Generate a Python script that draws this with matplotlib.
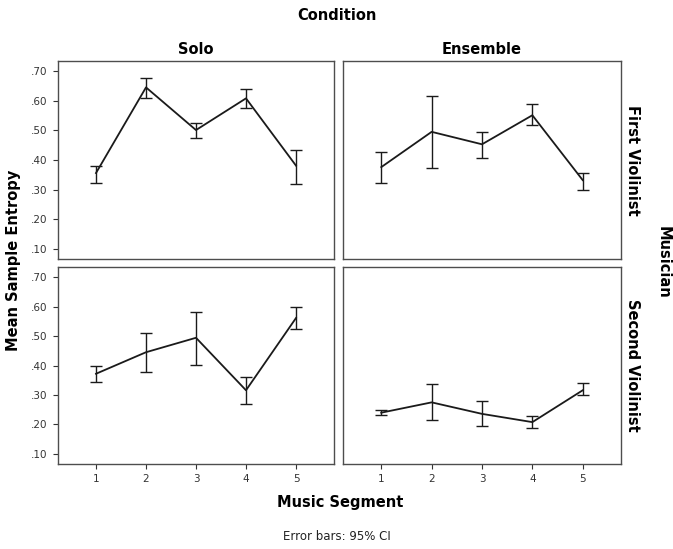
import matplotlib
matplotlib.use("Agg")
import matplotlib.pyplot as plt
import numpy as np

# Mean sample entropy by music segment, with 95% CI bounds
segments = [1, 2, 3, 4, 5]
conditions = ["Solo", "Ensemble"]
musicians = ["First Violinist", "Second Violinist"]

first_solo_mean = [0.356, 0.645, 0.501, 0.608, 0.381]
first_solo_low = [0.322, 0.610, 0.473, 0.576, 0.320]
first_solo_high = [0.380, 0.677, 0.526, 0.640, 0.434]

first_ens_mean = [0.376, 0.495, 0.453, 0.551, 0.332]
first_ens_low = [0.322, 0.374, 0.408, 0.517, 0.300]
first_ens_high = [0.427, 0.617, 0.495, 0.588, 0.356]

second_solo_mean = [0.372, 0.445, 0.494, 0.316, 0.561]
second_solo_low = [0.344, 0.379, 0.403, 0.269, 0.523]
second_solo_high = [0.399, 0.510, 0.583, 0.362, 0.597]

second_ens_mean = [0.240, 0.275, 0.236, 0.208, 0.316]
second_ens_low = [0.232, 0.214, 0.196, 0.187, 0.300]
second_ens_high = [0.248, 0.336, 0.279, 0.228, 0.339]

yticks = [0.1, 0.2, 0.3, 0.4, 0.5, 0.6, 0.7]
ytick_labels = [".10", ".20", ".30", ".40", ".50", ".60", ".70"]

panels = [
    [(first_solo_mean, first_solo_low, first_solo_high),
     (first_ens_mean, first_ens_low, first_ens_high)],
    [(second_solo_mean, second_solo_low, second_solo_high),
     (second_ens_mean, second_ens_low, second_ens_high)],
]

plt.rcParams['font.family'] = ['DejaVu Sans']
fig = plt.figure(figsize=(6.73, 5.49), dpi=100)

lefts = [58 / 673, 343 / 673]
widths = [276 / 673, 278 / 673]
bottoms = [1 - 259 / 549, 1 - 464 / 549]
heights = [198 / 549, 197 / 549]

for r in range(2):
    for c in range(2):
        ax = fig.add_axes([lefts[c], bottoms[r], widths[c], heights[r]])
        mean, low, high = panels[r][c]
        mean = np.array(mean)
        yerr = [mean - np.array(low), np.array(high) - mean]
        ax.errorbar(segments, mean, yerr=yerr, color="#1a1a1a", lw=1.3,
                    elinewidth=1.0, capsize=4.3, capthick=1.0)
        ax.set_xlim(0.24, 5.76)
        ax.set_ylim(0.066, 0.734)
        for s in ax.spines.values():
            s.set_color("#4d4d4d")
            s.set_linewidth(1.0)
        ax.tick_params(direction="out", length=3.8, width=0.8, labelsize=7.5,
                       color="#333333", labelcolor="#333333")
        if c == 0:
            ax.set_yticks(yticks)
            ax.set_yticklabels(ytick_labels)
        else:
            ax.set_yticks([])
        if r == 1:
            ax.set_xticks(segments)
            ax.set_xticklabels([str(s) for s in segments])
        else:
            ax.set_xticks([])
        if r == 0:
            ax.set_title(conditions[c], fontsize=10.5, fontweight="bold", pad=5)
        if c == 1:
            ax.text(1.04, 0.5, musicians[r], transform=ax.transAxes,
                    rotation=-90, va="center", ha="center",
                    fontsize=10.5, fontweight="bold")

fig.text(337 / 673, 1 - 16 / 549, "Condition", ha="center", va="center",
         fontsize=10.5, fontweight="bold")
fig.text(663 / 673, 1 - 262 / 549, "Musician", ha="center", va="center",
         rotation=-90, fontsize=10.5, fontweight="bold")
fig.text(14 / 673, 1 - 260 / 549, "Mean Sample Entropy", ha="center",
         va="center", rotation=90, fontsize=10.5, fontweight="bold")
fig.text(340 / 673, 1 - 502 / 549, "Music Segment", ha="center",
         va="center", fontsize=10.5, fontweight="bold")
fig.text(337 / 673, 1 - 537 / 549, "Error bars: 95% CI", ha="center",
         va="center", fontsize=8.5, color="#222222")

fig.savefig("out.png", dpi=100)
